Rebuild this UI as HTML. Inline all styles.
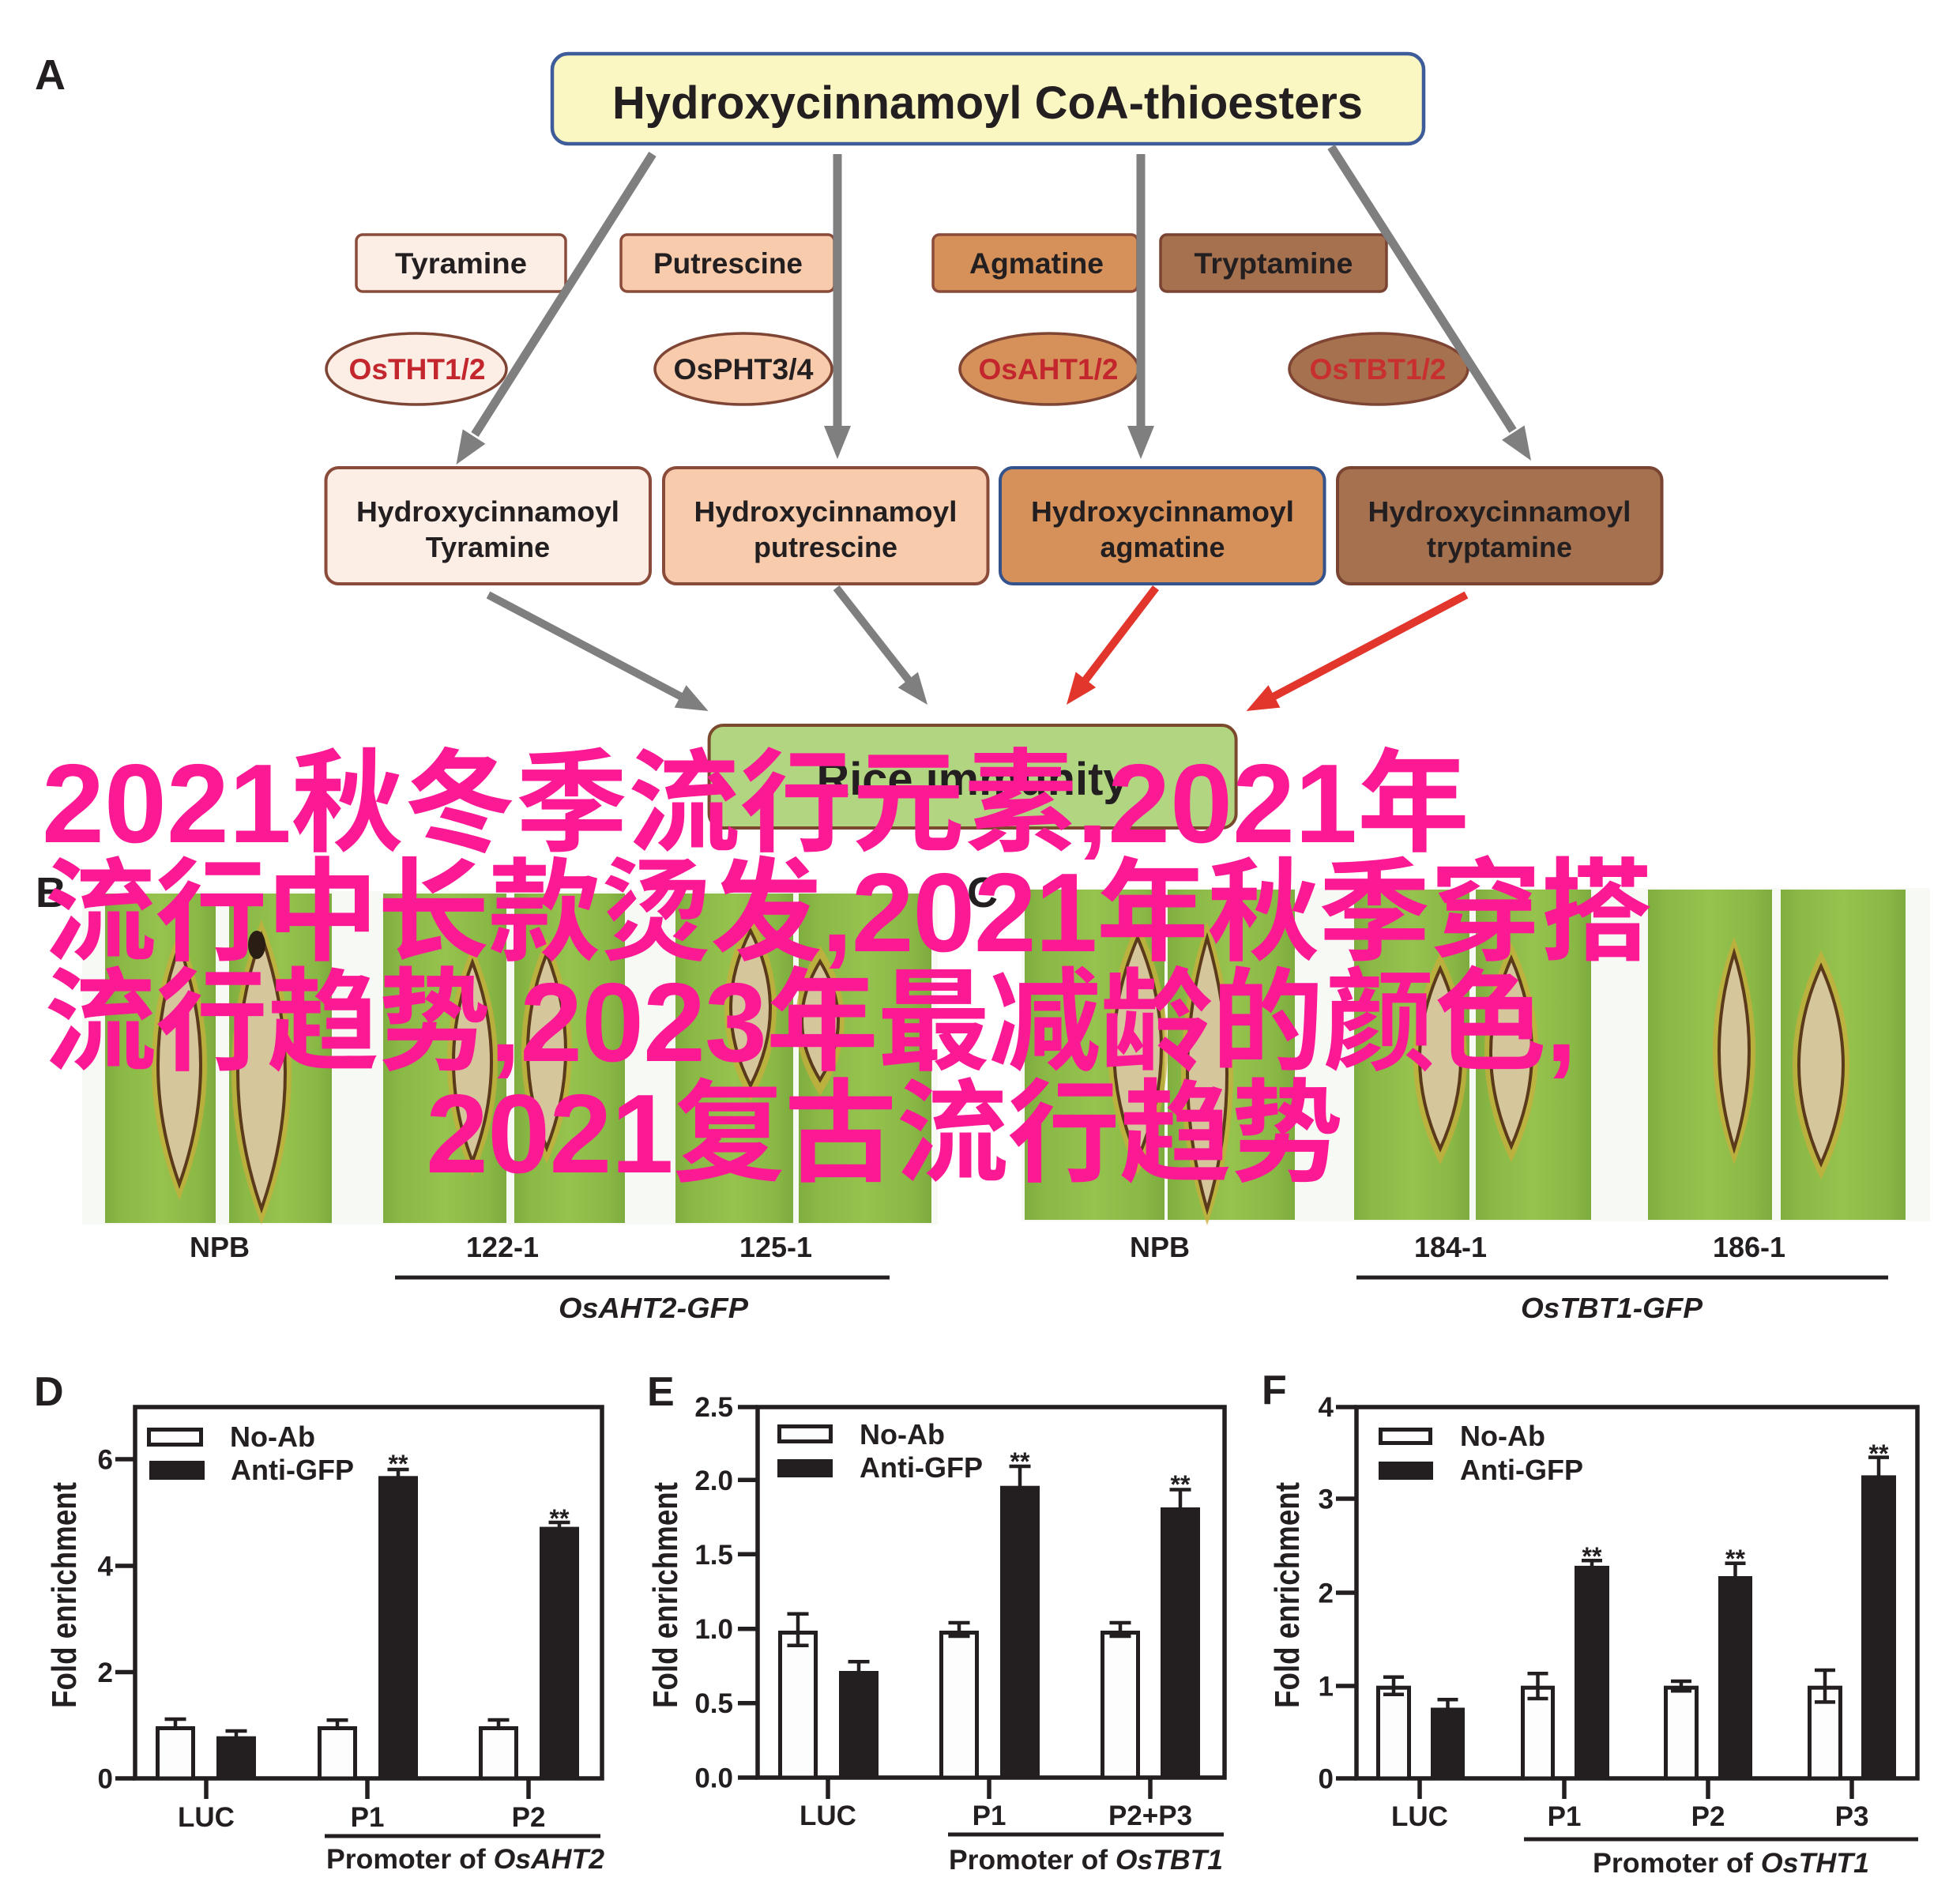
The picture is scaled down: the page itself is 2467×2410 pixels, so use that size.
<!DOCTYPE html>
<html><head><meta charset="utf-8"><style>
html,body{margin:0;padding:0;background:#fff;}
svg{display:block;}
text{font-family:"Liberation Sans",Arial,sans-serif;font-weight:bold;fill:#231F20;}
.pk{font-family:"Liberation Sans","Noto Sans CJK SC",sans-serif;font-weight:bold;fill:#FC1A94;font-size:142px;}
</style></head><body>
<svg xmlns="http://www.w3.org/2000/svg" width="2467" height="2410" viewBox="0 0 2467 2410">
<defs>
<linearGradient id="lg" x1="0" y1="0" x2="1" y2="0">
<stop offset="0" stop-color="#7FAD3F"/><stop offset="0.15" stop-color="#8BB946"/><stop offset="0.5" stop-color="#96C24E"/><stop offset="0.85" stop-color="#8AB845"/><stop offset="1" stop-color="#7DAB3E"/>
</linearGradient>
</defs>
<rect width="2467" height="2410" fill="#fff"/>

<!-- Panel A -->
<text x="44" y="113" font-size="54">A</text>
<rect x="699" y="68" width="1103" height="114" rx="20" fill="#FBF7C3" stroke="#3D5C99" stroke-width="4.5"/>
<text x="1250" y="150" font-size="58" text-anchor="middle" textLength="950" lengthAdjust="spacingAndGlyphs">Hydroxycinnamoyl CoA-thioesters</text>

<g stroke-width="3.5">
<rect x="451" y="297" width="265" height="72" rx="8" fill="#FCEDE5" stroke="#8A4B3B"/>
<rect x="786" y="297" width="270" height="72" rx="8" fill="#F7CBAB" stroke="#8A4B3B"/>
<rect x="1181" y="297" width="259" height="72" rx="8" fill="#D59159" stroke="#8A4B3B"/>
<rect x="1469" y="297" width="286" height="72" rx="8" fill="#A6714F" stroke="#7A4433"/>
</g>
<g font-size="37" text-anchor="middle">
<text x="583.5" y="346" textLength="167" lengthAdjust="spacingAndGlyphs">Tyramine</text>
<text x="921.5" y="346" textLength="189" lengthAdjust="spacingAndGlyphs">Putrescine</text>
<text x="1312" y="346" textLength="170" lengthAdjust="spacingAndGlyphs">Agmatine</text>
<text x="1612" y="346" textLength="201" lengthAdjust="spacingAndGlyphs">Tryptamine</text>
</g>

<g stroke-width="3.5" stroke="#7E4434">
<ellipse cx="527" cy="467" rx="114" ry="45" fill="#FCEDE5"/>
<ellipse cx="941" cy="467" rx="112" ry="45" fill="#F7CBAB"/>
<ellipse cx="1328" cy="467" rx="113" ry="45" fill="#D59159"/>
<ellipse cx="1745" cy="467" rx="113" ry="45" fill="#A6714F"/>
</g>
<g font-size="37" text-anchor="middle">
<text x="528" y="480" style="fill:#C4262E" textLength="173" lengthAdjust="spacingAndGlyphs">OsTHT1/2</text>
<text x="941" y="480" textLength="177" lengthAdjust="spacingAndGlyphs">OsPHT3/4</text>
<text x="1327" y="480" style="fill:#C4262E" textLength="177" lengthAdjust="spacingAndGlyphs">OsAHT1/2</text>
<text x="1744" y="480" style="fill:#C8302F" textLength="173" lengthAdjust="spacingAndGlyphs">OsTBT1/2</text>
</g>

<!-- upper arrows -->
<g stroke="#7F7F7F" stroke-width="11" fill="none">
<line x1="826" y1="195" x2="601" y2="550"/>
<line x1="1060" y1="195" x2="1060" y2="542"/>
<line x1="1444" y1="195" x2="1444" y2="542"/>
<line x1="1685" y1="186" x2="1915" y2="545"/>
</g>
<g fill="#7F7F7F">
<polygon points="577.5,588 585.7,543.4 614.4,561.7"/>
<polygon points="1060,581 1043,539 1077,539"/>
<polygon points="1444,581 1427,539 1461,539"/>
<polygon points="1938,583 1901,556.9 1929.6,538.5"/>
</g>

<g stroke-width="4">
<rect x="412.5" y="592" width="410.5" height="147" rx="16" fill="#FCEDE5" stroke="#8A4B3B"/>
<rect x="840" y="592" width="410.5" height="147" rx="16" fill="#F7CBAB" stroke="#8A4B3B"/>
<rect x="1266" y="592" width="410.5" height="147" rx="16" fill="#D59159" stroke="#34528C"/>
<rect x="1693" y="592" width="410.5" height="147" rx="16" fill="#A6714F" stroke="#7A4433"/>
</g>
<g font-size="36" text-anchor="middle">
<text x="617.5" y="660" textLength="333" lengthAdjust="spacingAndGlyphs">Hydroxycinnamoyl</text>
<text x="617.5" y="705">Tyramine</text>
<text x="1045" y="660" textLength="333" lengthAdjust="spacingAndGlyphs">Hydroxycinnamoyl</text>
<text x="1045" y="705">putrescine</text>
<text x="1471.5" y="660" textLength="333" lengthAdjust="spacingAndGlyphs">Hydroxycinnamoyl</text>
<text x="1471.5" y="705">agmatine</text>
<text x="1898" y="660" textLength="333" lengthAdjust="spacingAndGlyphs">Hydroxycinnamoyl</text>
<text x="1898" y="705">tryptamine</text>
</g>

<!-- lower arrows -->
<g stroke-width="10" fill="none">
<line x1="618" y1="753" x2="862.6" y2="882" stroke="#7F7F7F"/>
<line x1="1058.6" y1="744" x2="1151" y2="862" stroke="#7F7F7F"/>
<line x1="1463" y1="744" x2="1373" y2="862" stroke="#E2352B"/>
<line x1="1856" y1="753" x2="1611.5" y2="882" stroke="#E2352B"/>
</g>
<polygon points="896.6,900 853.7,895.6 868.6,867.2" fill="#7F7F7F"/>
<polygon points="1174,892 1136.7,870.4 1161.9,850.6" fill="#7F7F7F"/>
<polygon points="1350,892 1361.7,850.5 1387.1,870.1" fill="#E2352B"/>
<polygon points="1577.5,900 1605.5,867.2 1620.4,895.6" fill="#E2352B"/>

<rect x="897.6" y="918" width="667" height="130" rx="18" fill="#B2D581" stroke="#7B4A2E" stroke-width="4"/>
<text x="1231" y="1006" font-size="58" text-anchor="middle" textLength="395" lengthAdjust="spacingAndGlyphs">Rice immunity</text>

<!-- Panel B photo -->
<rect x="104" y="1128" width="1083" height="422" fill="#F7FAF4"/>
<g fill="url(#lg)">
<rect x="133" y="1131" width="140" height="417"/>
<rect x="290" y="1131" width="130" height="417"/>
<rect x="485" y="1131" width="156" height="417"/>
<rect x="651" y="1131" width="140" height="417"/>
<rect x="855" y="1131" width="149" height="417"/>
<rect x="1011" y="1131" width="168" height="417"/>
</g>
<!-- Panel C photo -->
<rect x="1293" y="1124" width="1150" height="422" fill="#F7FAF4"/>
<g fill="url(#lg)">
<rect x="1297" y="1126" width="177" height="418"/>
<rect x="1478" y="1126" width="161" height="418"/>
<rect x="1714" y="1126" width="146" height="418"/>
<rect x="1868" y="1126" width="146" height="418"/>
<rect x="2086" y="1126" width="157" height="418"/>
<rect x="2254" y="1126" width="158" height="418"/>
</g>
<!-- lesions halos -->
<g fill="#C9AE3C" opacity="0.75">
<path d="M227,1177 Q297,1348 227,1519 Q157,1348 227,1177Z"/>
<path d="M331,1164 Q407,1357 331,1550 Q255,1357 331,1164Z"/>
<path d="M598,1198 Q662,1344 598,1490 Q534,1344 598,1198Z"/>
<path d="M692,1187 Q756,1330 692,1473 Q628,1330 692,1187Z"/>
<path d="M950,1158 Q1016,1276 950,1394 Q884,1276 950,1158Z"/>
<path d="M1038,1197 Q1100,1292 1038,1387 Q976,1292 1038,1197Z"/>
<path d="M1440,1167 Q1516,1327 1440,1487 Q1364,1327 1440,1167Z"/>
<path d="M1528,1167 Q1594,1359 1528,1551 Q1462,1359 1528,1167Z"/>
<path d="M1823,1206 Q1891,1340 1823,1474 Q1755,1340 1823,1206Z"/>
<path d="M1913,1193 Q1981,1332 1913,1471 Q1845,1332 1913,1193Z"/>
<path d="M2195,1186 Q2249,1330 2195,1474 Q2141,1330 2195,1186Z"/>
<path d="M2305,1203 Q2377,1348 2305,1493 Q2233,1348 2305,1203Z"/>
</g>
<g fill="#D6C69C" stroke="#5A3A1A" stroke-width="4">
<path d="M227,1197 Q281,1348 227,1499 Q173,1348 227,1197Z"/>
<path d="M331,1184 Q391,1357 331,1530 Q271,1357 331,1184Z"/>
<path d="M598,1218 Q646,1344 598,1470 Q550,1344 598,1218Z"/>
<path d="M692,1207 Q740,1330 692,1453 Q644,1330 692,1207Z"/>
<path d="M950,1178 Q1000,1276 950,1374 Q900,1276 950,1178Z"/>
<path d="M1038,1217 Q1084,1292 1038,1367 Q992,1292 1038,1217Z"/>
<path d="M1440,1187 Q1500,1327 1440,1467 Q1380,1327 1440,1187Z"/>
<path d="M1528,1187 Q1578,1359 1528,1531 Q1478,1359 1528,1187Z"/>
<path d="M1823,1226 Q1875,1340 1823,1454 Q1771,1340 1823,1226Z"/>
<path d="M1913,1213 Q1965,1332 1913,1451 Q1861,1332 1913,1213Z"/>
<path d="M2195,1206 Q2233,1330 2195,1454 Q2157,1330 2195,1206Z"/>
<path d="M2305,1223 Q2361,1348 2305,1473 Q2249,1348 2305,1223Z"/>
</g>
<ellipse cx="325" cy="1196" rx="11" ry="18" fill="#2A1E14"/>

<text x="45" y="1148" font-size="54">B</text>
<text x="1224" y="1148" font-size="54">C</text>

<g font-size="36" text-anchor="middle">
<text x="278" y="1591">NPB</text>
<text x="636" y="1591">122-1</text>
<text x="982" y="1591">125-1</text>
<text x="1468" y="1591">NPB</text>
<text x="1836" y="1591">184-1</text>
<text x="2214" y="1591">186-1</text>
<text x="827" y="1668" font-style="italic" textLength="240" lengthAdjust="spacingAndGlyphs">OsAHT2-GFP</text>
<text x="2040" y="1668" font-style="italic" textLength="230" lengthAdjust="spacingAndGlyphs">OsTBT1-GFP</text>
</g>
<rect x="500" y="1614.5" width="626" height="5" fill="#231F20"/>
<rect x="1717" y="1614.5" width="673" height="5" fill="#231F20"/>

<!-- ===== Chart D ===== -->
<text x="43" y="1779" font-size="52">D</text>
<g stroke="#231F20" stroke-width="5.5" fill="none">
<rect x="171" y="1781" width="591" height="470"/>
<line x1="146" y1="2251" x2="171" y2="2251"/>
<line x1="146" y1="2116.5" x2="171" y2="2116.5"/>
<line x1="146" y1="1982" x2="171" y2="1982"/>
<line x1="146" y1="1847" x2="171" y2="1847"/>
<line x1="261" y1="2251" x2="261" y2="2277"/>
<line x1="465" y1="2251" x2="465" y2="2277"/>
<line x1="669" y1="2251" x2="669" y2="2277"/>
</g>
<g font-size="35" text-anchor="end">
<text x="143" y="2263.5">0</text><text x="143" y="2129">2</text><text x="143" y="1994.5">4</text><text x="143" y="1859.5">6</text>
</g>
<text transform="translate(96,2019) rotate(-90)" font-size="44" text-anchor="middle" textLength="286" lengthAdjust="spacingAndGlyphs">Fold  enrichment</text>
<rect x="188.5" y="1809.5" width="66" height="19" fill="#FEFDFD" stroke="#231F20" stroke-width="5"/>
<rect x="189" y="1849" width="70" height="24" fill="#231F20"/>
<text x="291" y="1831" font-size="36">No-Ab</text>
<text x="292" y="1873" font-size="36">Anti-GFP</text>
<g fill="#231F20">
<rect x="274" y="2197.7" width="50" height="53.3"/>
<rect x="479" y="1868.3" width="50" height="382.7"/>
<rect x="683" y="1932.6" width="50" height="318.4"/>
</g>
<g fill="#FEFDFD" stroke="#231F20" stroke-width="5">
<rect x="199.5" y="2187.5" width="45" height="63.5"/>
<rect x="404.5" y="2187.5" width="45" height="63.5"/>
<rect x="608.5" y="2187.5" width="45" height="63.5"/>
</g>
<g stroke="#231F20" stroke-width="4.5">
<line x1="222" y1="2186" x2="222" y2="2176"/><line x1="208.5" y1="2176" x2="235.5" y2="2176"/>
<line x1="299" y1="2198" x2="299" y2="2191"/><line x1="285.5" y1="2191" x2="312.5" y2="2191"/>
<line x1="427" y1="2186" x2="427" y2="2177.3"/><line x1="413.5" y1="2177.3" x2="440.5" y2="2177.3"/>
<line x1="504" y1="1869" x2="504" y2="1860"/><line x1="490.5" y1="1860" x2="517.5" y2="1860"/>
<line x1="631" y1="2186" x2="631" y2="2177"/><line x1="617.5" y1="2177" x2="644.5" y2="2177"/>
<line x1="708" y1="1933" x2="708" y2="1927"/><line x1="694.5" y1="1927" x2="721.5" y2="1927"/>
</g>
<g font-size="32" text-anchor="middle">
<text x="504" y="1864">**</text><text x="708" y="1933">**</text>
</g>
<g font-size="35" text-anchor="middle">
<text x="261" y="2312">LUC</text><text x="465" y="2312">P1</text><text x="669" y="2312">P2</text>
</g>
<rect x="411" y="2321.5" width="349" height="5" fill="#231F20"/>
<text x="413" y="2365" font-size="35" textLength="352" lengthAdjust="spacingAndGlyphs">Promoter of <tspan font-style="italic">OsAHT2</tspan></text>

<!-- ===== Chart E ===== -->
<text x="819" y="1779" font-size="52">E</text>
<g stroke="#231F20" stroke-width="5.5" fill="none">
<rect x="959" y="1781" width="591" height="469"/>
<line x1="934" y1="2250" x2="959" y2="2250"/>
<line x1="934" y1="2155.7" x2="959" y2="2155.7"/>
<line x1="934" y1="2061.7" x2="959" y2="2061.7"/>
<line x1="934" y1="1967.3" x2="959" y2="1967.3"/>
<line x1="934" y1="1873.3" x2="959" y2="1873.3"/>
<line x1="934" y1="1781" x2="959" y2="1781"/>
<line x1="1048" y1="2250" x2="1048" y2="2277"/>
<line x1="1252" y1="2250" x2="1252" y2="2277"/>
<line x1="1456" y1="2250" x2="1456" y2="2277"/>
</g>
<g font-size="35" text-anchor="end">
<text x="928" y="2262.5">0.0</text><text x="928" y="2168">0.5</text><text x="928" y="2074">1.0</text><text x="928" y="1980">1.5</text><text x="928" y="1886">2.0</text><text x="928" y="1793">2.5</text>
</g>
<text transform="translate(857,2019) rotate(-90)" font-size="44" text-anchor="middle" textLength="286" lengthAdjust="spacingAndGlyphs">Fold  enrichment</text>
<rect x="986.5" y="1805.5" width="65" height="19" fill="#FEFDFD" stroke="#231F20" stroke-width="5"/>
<rect x="984" y="1847" width="70" height="23" fill="#231F20"/>
<text x="1088" y="1828" font-size="36">No-Ab</text>
<text x="1088" y="1870" font-size="36">Anti-GFP</text>
<g fill="#231F20">
<rect x="1062" y="2115" width="50" height="135"/>
<rect x="1266" y="1880.7" width="50" height="369.3"/>
<rect x="1469" y="1908" width="50" height="342"/>
</g>
<g fill="#FEFDFD" stroke="#231F20" stroke-width="5">
<rect x="987.5" y="2066.5" width="45" height="183.5"/>
<rect x="1191.5" y="2066.5" width="45" height="183.5"/>
<rect x="1395.5" y="2066.5" width="45" height="183.5"/>
</g>
<g stroke="#231F20" stroke-width="4.5">
<line x1="1010" y1="2082.7" x2="1010" y2="2042.7"/><line x1="996.5" y1="2042.7" x2="1023.5" y2="2042.7"/><line x1="996.5" y1="2082.7" x2="1023.5" y2="2082.7"/>
<line x1="1087" y1="2116" x2="1087" y2="2103.3"/><line x1="1073.5" y1="2103.3" x2="1100.5" y2="2103.3"/>
<line x1="1214" y1="2071" x2="1214" y2="2054"/><line x1="1200.5" y1="2054" x2="1227.5" y2="2054"/><line x1="1200.5" y1="2071" x2="1227.5" y2="2071"/>
<line x1="1291" y1="1881" x2="1291" y2="1856"/><line x1="1277.5" y1="1856" x2="1304.5" y2="1856"/>
<line x1="1418" y1="2071" x2="1418" y2="2054"/><line x1="1404.5" y1="2054" x2="1431.5" y2="2054"/><line x1="1404.5" y1="2071" x2="1431.5" y2="2071"/>
<line x1="1494" y1="1908" x2="1494" y2="1885.5"/><line x1="1480.5" y1="1885.5" x2="1507.5" y2="1885.5"/>
</g>
<g font-size="32" text-anchor="middle">
<text x="1291" y="1861">**</text><text x="1494" y="1890">**</text>
</g>
<g font-size="35" text-anchor="middle">
<text x="1048" y="2310">LUC</text><text x="1252" y="2310">P1</text><text x="1456" y="2310">P2+P3</text>
</g>
<rect x="1200" y="2319.5" width="349" height="5" fill="#231F20"/>
<text x="1201" y="2366" font-size="35" textLength="347" lengthAdjust="spacingAndGlyphs">Promoter of <tspan font-style="italic">OsTBT1</tspan></text>

<!-- ===== Chart F ===== -->
<text x="1597" y="1777" font-size="52">F</text>
<g stroke="#231F20" stroke-width="5.5" fill="none">
<rect x="1717" y="1781" width="710" height="470"/>
<line x1="1691" y1="2251" x2="1717" y2="2251"/>
<line x1="1691" y1="2134" x2="1717" y2="2134"/>
<line x1="1691" y1="2016" x2="1717" y2="2016"/>
<line x1="1691" y1="1897" x2="1717" y2="1897"/>
<line x1="1691" y1="1781" x2="1717" y2="1781"/>
<line x1="1797" y1="2251" x2="1797" y2="2277"/>
<line x1="1980" y1="2251" x2="1980" y2="2277"/>
<line x1="2162" y1="2251" x2="2162" y2="2277"/>
<line x1="2344" y1="2251" x2="2344" y2="2277"/>
</g>
<g font-size="35" text-anchor="end">
<text x="1688" y="2263.5">0</text><text x="1688" y="2146.5">1</text><text x="1688" y="2028.5">2</text><text x="1688" y="1909.5">3</text><text x="1688" y="1793">4</text>
</g>
<text transform="translate(1644,2019) rotate(-90)" font-size="44" text-anchor="middle" textLength="286" lengthAdjust="spacingAndGlyphs">Fold  enrichment</text>
<rect x="1747.5" y="1809.5" width="63" height="17" fill="#FEFDFD" stroke="#231F20" stroke-width="5"/>
<rect x="1745" y="1850" width="69" height="23" fill="#231F20"/>
<text x="1848" y="1830" font-size="36">No-Ab</text>
<text x="1848" y="1873" font-size="36">Anti-GFP</text>
<g fill="#231F20">
<rect x="1811" y="2161.5" width="43" height="89.5"/>
<rect x="1993" y="1981.9" width="44" height="269.1"/>
<rect x="2175" y="1995" width="43" height="256"/>
<rect x="2356" y="1867.4" width="44" height="383.6"/>
</g>
<g fill="#FEFDFD" stroke="#231F20" stroke-width="5">
<rect x="1744.5" y="2136.2" width="39" height="114.8"/>
<rect x="1927.5" y="2136.2" width="38" height="114.8"/>
<rect x="2108.5" y="2136.2" width="39" height="114.8"/>
<rect x="2290.5" y="2136.2" width="39" height="114.8"/>
</g>
<g stroke="#231F20" stroke-width="4.5">
<line x1="1764" y1="2144.7" x2="1764" y2="2122.7"/><line x1="1751" y1="2122.7" x2="1777" y2="2122.7"/><line x1="1751" y1="2144.7" x2="1777" y2="2144.7"/>
<line x1="1832.5" y1="2162" x2="1832.5" y2="2151.3"/><line x1="1819.5" y1="2151.3" x2="1845.5" y2="2151.3"/>
<line x1="1946.5" y1="2150" x2="1946.5" y2="2118.3"/><line x1="1933.5" y1="2118.3" x2="1959.5" y2="2118.3"/><line x1="1933.5" y1="2150" x2="1959.5" y2="2150"/>
<line x1="2015" y1="1982" x2="2015" y2="1975.3"/><line x1="2002" y1="1975.3" x2="2028" y2="1975.3"/>
<line x1="2128" y1="2140.3" x2="2128" y2="2128"/><line x1="2115" y1="2128" x2="2141" y2="2128"/><line x1="2115" y1="2140.3" x2="2141" y2="2140.3"/>
<line x1="2196.5" y1="1995" x2="2196.5" y2="1978.8"/><line x1="2183.5" y1="1978.8" x2="2209.5" y2="1978.8"/>
<line x1="2310" y1="2154.4" x2="2310" y2="2114"/><line x1="2297" y1="2114" x2="2323" y2="2114"/><line x1="2297" y1="2154.4" x2="2323" y2="2154.4"/>
<line x1="2378" y1="1868" x2="2378" y2="1844.6"/><line x1="2365" y1="1844.6" x2="2391" y2="1844.6"/>
</g>
<g font-size="32" text-anchor="middle">
<text x="2015" y="1981">**</text><text x="2196.5" y="1984">**</text><text x="2378" y="1851">**</text>
</g>
<g font-size="35" text-anchor="middle">
<text x="1797" y="2311">LUC</text><text x="1980" y="2311">P1</text><text x="2162" y="2311">P2</text><text x="2344" y="2311">P3</text>
</g>
<rect x="1929" y="2325.5" width="499" height="5" fill="#231F20"/>
<text x="2016" y="2370" font-size="35" textLength="350" lengthAdjust="spacingAndGlyphs">Promoter of <tspan font-style="italic">OsTHT1</tspan></text>

<!-- pink overlay text -->
<text class="pk" x="53" y="1066" textLength="1807" lengthAdjust="spacing">2021秋冬季流行元素,2021年</text>
<text class="pk" x="56" y="1204" textLength="2036" lengthAdjust="spacing">流行中长款烫发,2021年秋季穿搭</text>
<text class="pk" x="56" y="1343" textLength="1940" lengthAdjust="spacing">流行趋势,2023年最减龄的颜色,</text>
<text class="pk" x="539" y="1484" textLength="1161" lengthAdjust="spacing">2021复古流行趋势</text>
</svg>
</body></html>
